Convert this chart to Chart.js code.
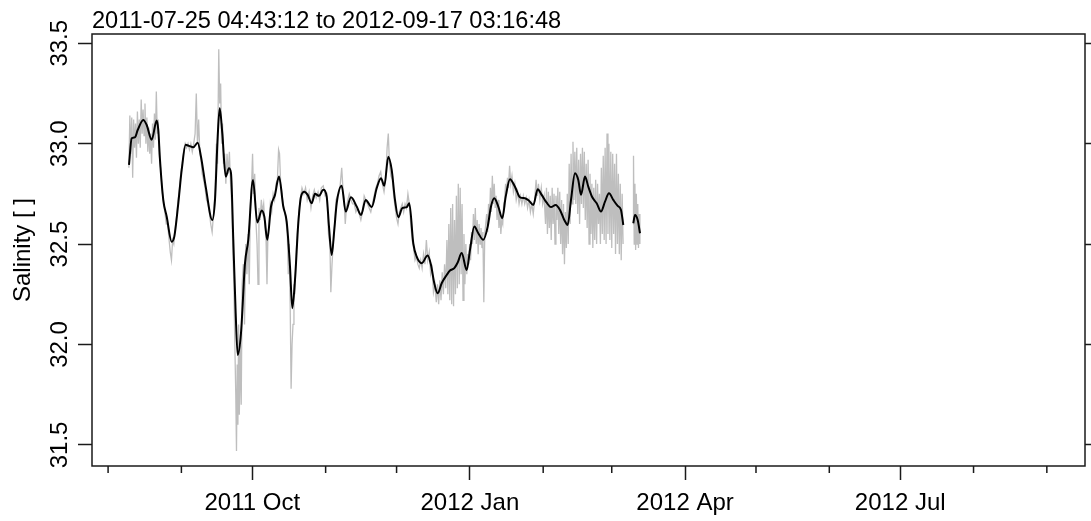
<!DOCTYPE html>
<html><head><meta charset="utf-8">
<script src="https://cdn.jsdelivr.net/npm/chart.js@4.4.1/dist/chart.umd.min.js"></script>
<style>html,body{margin:0;padding:0;background:#fff;}</style>
</head><body>
<canvas id="c" width="1091" height="521"></canvas>
<script>
// ---- data (days since 2011-08-01 00:00 UTC, salinity) ----
const titleText = '2011-07-25 04:43:12 to 2012-09-17 03:16:48';
const yLabel = 'Salinity [ ]';
const yTickVals = [31.5, 32.0, 32.5, 33.0, 33.5];
const yTickLabels = ['31.5', '32.0', '32.5', '33.0', '33.5'];
const monthTicks = ['2011-08','2011-09','2011-10','2011-11','2011-12','2012-01','2012-02','2012-03','2012-04','2012-05','2012-06','2012-07','2012-08','2012-09'];
const majorLabels = {'2011-10':'2011 Oct','2012-01':'2012 Jan','2012-04':'2012 Apr','2012-07':'2012 Jul'};

const smoothSalinity = [
[8.84,32.894],[9.98,33.027],[11.38,33.032],[12.52,33.068],[14.89,33.118],[16.32,33.093],[18.44,33.019],[20.55,33.115],[21.23,33.068],[21.95,32.919],
[23.34,32.72],[24.78,32.637],[26.9,32.512],[28.0,32.537],[29.69,32.703],[31.13,32.869],[32.82,32.994],[34.21,32.989],[36.03,32.982],[37.89,33.005],
[39.29,32.935],[41.28,32.786],[44.07,32.62],[45.21,32.72],[46.35,33.035],[47.2,33.176],[48.3,33.052],[49.74,32.836],[51.13,32.878],[51.98,32.853],
[52.95,32.521],[53.96,32.156],[54.81,31.948],[56.2,32.056],[57.9,32.405],[59.29,32.521],[61.28,32.819],[63.1,32.607],[64.96,32.667],[66.06,32.637],
[67.33,32.521],[68.89,32.687],[70.58,32.745],[72.27,32.836],[74.09,32.687],[75.53,32.612],[76.93,32.388],[77.9,32.181],[79.04,32.321],[80.44,32.604],
[81.58,32.736],[82.98,32.761],[84.41,32.745],[86.1,32.703],[87.5,32.75],[89.19,32.74],[91.01,32.77],[92.45,32.736],[93.42,32.587],[94.56,32.446],
[95.66,32.571],[96.68,32.703],[98.79,32.79],[100.48,32.662],[102.72,32.733],[105.13,32.687],[106.95,32.645],[108.94,32.72],[111.48,32.684],[113.59,32.778],
[115.41,32.828],[116.81,32.79],[118.5,32.935],[119.94,32.869],[121.33,32.72],[122.73,32.634],[124.42,32.679],[126.28,32.684],[127.38,32.703],[129.07,32.504],
[130.51,32.437],[132.63,32.405],[135.16,32.443],[136.56,32.396],[137.95,32.305],[139.39,32.255],[141.08,32.305],[143.2,32.346],[144.59,32.368],[146.41,32.38],
[147.85,32.408],[149.54,32.455],[151.65,32.371],[153.05,32.471],[154.87,32.587],[156.56,32.554],[158.68,32.521],[160.54,32.587],[161.93,32.687],[163.33,32.728],
[165.02,32.687],[166.71,32.629],[168.15,32.736],[169.97,32.823],[172.08,32.785],[174.2,32.733],[176.31,32.728],[178.0,32.716],[179.82,32.695],[181.68,32.773],
[183.37,32.745],[185.49,32.706],[187.31,32.684],[189.29,32.695],[191.11,32.67],[192.93,32.62],[194.37,32.595],[195.77,32.72],[197.46,32.853],[198.85,32.819],
[199.99,32.745],[201.69,32.836],[203.08,32.786],[204.77,32.733],[206.63,32.703],[208.45,32.662],[210.14,32.711],[211.83,32.753],[213.65,32.72],[215.51,32.69],
[216.91,32.67],[217.88,32.595],[220.0,null],[222.11,32.604],[222.83,32.645],[223.97,32.62],[224.94,32.554]
];

const rawSalinity = [
[8.8,32.88],[9.2,33.14],[9.6,32.95],[10.0,33.13],[10.4,32.83],[10.8,33.12],[11.2,32.98],[11.6,33.1],[12.0,32.93],[12.4,33.16],[12.8,33.0],[13.2,33.12],[13.6,32.98],[14.0,33.22],[14.4,33.05],[14.8,33.17],[15.2,33.04],[15.6,33.2],[16.0,33.0],[16.4,33.13],[16.8,32.96],[17.2,33.08],[17.6,32.95],[18.0,33.05],[18.4,32.9],[18.8,33.1],[19.2,32.98],[19.6,33.15],[20.0,33.02],[20.4,33.26],[20.8,33.05],[21.2,33.12],[21.6,32.95],
[22.2,32.88],[22.8,32.78],[23.4,32.7],[24.0,32.66],[24.6,32.6],[25.2,32.6],[25.8,32.52],[26.3,32.46],[26.8,32.42],[27.3,32.52],[27.8,32.5],[28.4,32.58],[29.0,32.64],[29.6,32.72],[30.2,32.78],[30.8,32.86],[31.4,32.9],[32.0,32.97],[32.6,33.0],[33.2,32.98],[33.8,33.0],[34.4,32.97],[35.0,33.0],[35.6,32.96],[36.2,33.0],[36.8,33.05],[37.3,33.25],[37.8,33.0],[38.3,33.12],[38.8,32.95],[39.3,32.92],[39.8,32.85],[40.4,32.82],[41.0,32.78],[41.6,32.72],[42.2,32.7],[42.8,32.66],[43.4,32.6],[44.0,32.56],[44.6,32.65],[45.2,32.75],
[45.8,33.0],[46.3,32.9],[46.8,33.47],[47.2,33.2],[47.6,33.3],[48.0,33.0],[48.4,33.1],[48.8,32.9],[49.3,32.95],[49.8,32.8],[50.3,32.95],[50.8,32.85],[51.3,32.96],[51.8,32.8],[52.3,32.7],[52.8,32.45],[53.2,32.3],[53.6,32.0],[54.0,31.75],[54.3,31.47],[54.6,31.9],[54.9,31.6],[55.2,32.1],[55.5,31.65],[55.9,32.0],[56.3,31.7],[56.7,32.3],
[57.2,32.4],[57.7,32.1],[58.2,32.5],[58.7,32.35],[59.2,32.55],[59.7,32.3],[60.2,32.7],[60.7,32.8],[61.1,32.95],[61.5,32.75],[62.0,32.85],[62.5,32.62],[63.0,32.5],[63.4,32.3],[63.8,32.68],[64.3,32.62],[64.8,32.72],[65.3,32.66],[65.8,32.7],[66.3,32.6],[66.8,32.52],[67.2,32.3],[67.6,32.55],[68.1,32.6],[68.6,32.7],[69.2,32.66],[69.8,32.75],[70.4,32.72],[71.0,32.8],[71.6,32.82],[72.1,32.97],[72.5,32.95],[73.0,32.8],[73.5,32.76],[74.0,32.7],[74.6,32.66],[75.2,32.62],[75.8,32.55],[76.2,32.35],[76.6,32.5],[77.0,32.2],[77.4,31.78],[77.8,32.0],[78.2,32.1],[78.6,32.3],[79.0,32.25],[79.5,32.45],[80.0,32.55],[80.6,32.65],[81.2,32.72],
[82.0,32.78],[82.8,32.75],[83.5,32.78],[84.2,32.72],[85.0,32.76],[85.8,32.68],[86.5,32.74],[87.2,32.77],[88.0,32.73],[88.8,32.76],[89.5,32.72],[90.2,32.78],[91.0,32.79],[91.8,32.74],[92.5,32.75],[93.2,32.55],[93.8,32.5],[94.2,32.26],[94.7,32.4],[95.2,32.5],[95.8,32.6],[96.4,32.72],[97.0,32.74],[97.6,32.75],[98.2,32.8],[98.8,32.88],[99.3,32.78],[99.8,32.72],[100.3,32.6],[100.8,32.68],[101.4,32.72],[102.0,32.75],[102.7,32.72],[103.4,32.7],[104.1,32.7],[104.8,32.66],[105.5,32.68],[106.2,32.65],[106.9,32.62],[107.6,32.66],[108.3,32.74],[109.0,32.72],[109.7,32.7],[110.4,32.68],[111.1,32.66],[111.8,32.7],[112.5,32.74],[113.2,32.78],[113.9,32.8],[114.6,32.84],[115.3,32.86],[116.0,32.8],[116.7,32.76],[117.4,32.82],[118.0,32.98],[118.5,33.05],[119.0,32.9],[119.6,32.84],[120.2,32.82],[120.8,32.74],[121.4,32.68],[122.0,32.63],[122.6,32.6],[123.2,32.66],[123.8,32.68],[124.4,32.7],[125.0,32.66],[125.6,32.7],[126.2,32.68],[126.8,32.75],[127.4,32.7],[128.0,32.6],[128.6,32.52],[129.2,32.48],[129.8,32.42],
[130.4,32.44],[131.0,32.4],[131.6,32.38],[132.2,32.42],[132.8,32.38],[133.4,32.45],[134.0,32.4],[134.6,32.52],[135.2,32.42],[135.8,32.46],[136.4,32.35],[137.0,32.38],[137.6,32.26],[138.2,32.3],[138.8,32.21],[139.3,32.3],[139.8,32.2],[140.3,32.32],[140.8,32.22],[141.3,32.36],[141.8,32.25],[142.3,32.4],[142.8,32.28],[143.3,32.52],[143.7,32.25],[144.1,32.6],[144.5,32.22],[144.9,32.68],[145.3,32.2],[145.7,32.7],[146.1,32.19],[146.5,32.62],[146.9,32.25],[147.3,32.74],[147.7,32.28],[148.1,32.8],[148.5,32.3],[148.9,32.78],[149.3,32.35],[149.7,32.7],[150.1,32.22],[150.5,32.55],[150.9,32.3],[151.3,32.5],[151.7,32.35],[152.1,32.45],[152.5,32.4],
[152.9,32.5],[153.3,32.42],[153.7,32.56],[154.1,32.5],[154.5,32.65],[154.9,32.52],[155.3,32.68],[155.7,32.5],[156.1,32.62],[156.5,32.45],[156.9,32.6],[157.3,32.5],[157.7,32.58],[158.1,32.48],[158.5,32.56],[158.9,32.21],[159.3,32.55],[159.7,32.6],[160.1,32.65],[160.5,32.56],[160.9,32.7],[161.3,32.62],[161.7,32.78],[162.1,32.66],[162.5,32.84],[162.9,32.7],[163.3,32.8],[163.7,32.68],[164.1,32.74],[164.5,32.62],[164.9,32.72],[165.3,32.58],[165.7,32.66],[166.1,32.55],[166.5,32.62],[166.9,32.6],[167.3,32.7],[167.7,32.72],[168.1,32.8],[168.5,32.75],[168.9,32.83],[169.3,32.78],[169.8,32.89],[170.3,32.8],[170.8,32.84],[171.4,32.76],[172.0,32.8],[172.6,32.72],[173.2,32.76],[173.8,32.7],[174.4,32.74],[175.0,32.7],[175.6,32.74],[176.2,32.7],[176.8,32.73],[177.4,32.68],[178.0,32.72],[178.6,32.66],[179.2,32.7],[179.8,32.65],[180.4,32.72],[181.0,32.82],[181.5,32.74],[182.0,32.8],[182.6,32.72],[183.2,32.78],[183.8,32.7],[184.4,32.74],[185.0,32.6],[185.4,32.78],[185.8,32.55],[186.2,32.76],[186.6,32.58],[187.0,32.74],[187.4,32.52],[187.8,32.78],[188.2,32.6],[188.6,32.75],[189.0,32.5],[189.4,32.74],[189.8,32.62],
[190.2,32.78],[190.6,32.55],[191.0,32.76],[191.4,32.5],[191.8,32.72],[192.2,32.45],[192.6,32.7],[193.0,32.4],[193.4,32.66],[193.8,32.48],[194.2,32.75],[194.6,32.5],[195.0,32.9],[195.4,32.6],[195.8,32.95],[196.2,32.7],[196.6,33.01],[197.0,32.72],[197.4,32.96],[197.8,32.7],[198.2,32.98],[198.6,32.65],[199.0,32.92],[199.4,32.6],[199.8,32.95],[200.2,32.7],[200.6,32.98],[201.0,32.68],[201.4,32.96],[201.8,32.62],[202.2,32.9],[202.6,32.58],[203.0,32.92],[203.4,32.5],[203.8,32.85],[204.2,32.55],[204.6,32.8],[205.0,32.48],[205.4,32.78],[205.8,32.52],[206.2,32.82],[206.6,32.5],[207.0,32.8],[207.4,32.6],[207.8,32.75],[208.2,32.5],[208.6,32.88],[209.0,32.55],[209.4,32.94],[209.8,32.52],[210.2,32.98],[210.6,32.5],[211.0,33.05],[211.4,32.55],[211.8,33.0],[212.2,32.52],[212.6,32.96],[213.0,32.48],[213.4,32.95],[213.8,32.55],[214.2,32.9],[214.6,32.45],[215.0,32.95],[215.4,32.5],[215.8,32.85],[216.2,32.45],[216.6,32.8],[217.0,32.42],[217.4,32.75],[217.8,32.5],
[220.0,null],
[222.0,32.6],[222.2,32.94],[222.5,32.5],[222.8,32.8],[223.1,32.47],[223.4,32.75],[223.7,32.5],[224.0,32.7],[224.3,32.48],[224.6,32.65],[224.9,32.5]
];

// ---- axis ranges ----
const X_MIN = Date.UTC(2011, 6, 25, 4, 43, 12);
const X_MAX = Date.UTC(2012, 8, 17, 3, 16, 48);
const Y_MIN = 31.395, Y_MAX = 33.546;
const DAY0 = Date.UTC(2011, 7, 1);
const DAY_MS = 86400000;
const FONT = '"Liberation Sans", Arial, Helvetica, sans-serif';
const FS = 24;
const INK = '#1a1a1a';

function monthValue(m) { const [y, mo] = m.split('-').map(Number); return Date.UTC(y, mo - 1, 1); }
function toPts(arr) { return arr.map(([d, v]) => ({x: DAY0 + d * DAY_MS, y: v})); }

const decor = {
  id: 'decor',
  afterDraw(chart) {
    const {ctx, chartArea: a, scales} = chart;
    ctx.save();
    ctx.strokeStyle = INK; ctx.lineWidth = 1.5;
    ctx.strokeRect(a.left, a.top, a.right - a.left, a.bottom - a.top);
    ctx.beginPath();
    monthTicks.forEach(m => {
      if (!majorLabels[m]) {
        const x = scales.x.getPixelForValue(monthValue(m));
        ctx.moveTo(x, a.bottom); ctx.lineTo(x, a.bottom + 7);
      }
    });
    ctx.stroke();
    ctx.fillStyle = '#000';
    ctx.font = FS + 'px ' + FONT;
    ctx.textAlign = 'center'; ctx.textBaseline = 'alphabetic';
    yTickVals.forEach((v, i) => {
      const y = scales.y.getPixelForValue(v);
      ctx.save(); ctx.translate(a.left - 25, y); ctx.rotate(-Math.PI / 2);
      ctx.fillText(yTickLabels[i], 0, 0); ctx.restore();
    });
    ctx.font = '23.6px ' + FONT;
    ctx.textAlign = 'left';
    ctx.fillText(titleText, a.left, a.top - 6);
    ctx.restore();
  }
};

new Chart(document.getElementById('c'), {
  type: 'line',
  data: {
    datasets: [
      {label: 'raw', data: toPts(rawSalinity), borderColor: 'rgb(190,190,190)', borderWidth: 1.3, pointRadius: 0, order: 2, spanGaps: false, tension: 0},
      {label: 'smoothed', data: toPts(smoothSalinity), borderColor: '#000', borderWidth: 2, pointRadius: 0, order: 1, spanGaps: false, cubicInterpolationMode: 'monotone'}
    ]
  },
  options: {
    responsive: false, animation: false, devicePixelRatio: 1,
    layout: {padding: {top: 34, left: 0, right: 0, bottom: 0}},
    plugins: {legend: {display: false}, tooltip: {enabled: false}, title: {display: false}},
    scales: {
      x: {
        type: 'linear', min: X_MIN, max: X_MAX, offset: false,
        afterBuildTicks: s => { s.ticks = monthTicks.map(m => ({value: monthValue(m)})); },
        afterFit: s => { s.height = 55; },
        grid: {drawOnChartArea: false, drawTicks: true, tickLength: 14, tickWidth: 1.5,
          tickColor: c => (majorLabels[monthTicks[c.index]] ? INK : 'rgba(0,0,0,0)')},
        border: {display: false},
        ticks: {autoSkip: false, maxRotation: 0, minRotation: 0, padding: 9, color: '#000',
          font: {family: FONT, size: FS},
          callback: (v, i) => majorLabels[monthTicks[i]] || ''}
      },
      y: {
        type: 'linear', position: 'left', min: Y_MIN, max: Y_MAX,
        afterBuildTicks: s => { s.ticks = yTickVals.map(v => ({value: v})); },
        afterFit: s => { s.width = 92; },
        grid: {drawOnChartArea: false, drawTicks: true, tickLength: 14, tickWidth: 1.5, tickColor: INK},
        border: {display: false},
        ticks: {display: false},
        title: {display: true, text: yLabel, color: '#000', font: {family: FONT, size: FS}, padding: {top: 9, bottom: 0}}
      },
      y2: {
        type: 'linear', position: 'right', min: Y_MIN, max: Y_MAX,
        afterBuildTicks: s => { s.ticks = yTickVals.map(v => ({value: v})); },
        afterFit: s => { s.width = 6; },
        grid: {drawOnChartArea: false, drawTicks: true, tickLength: 7, tickWidth: 1.5, tickColor: INK},
        border: {display: false},
        ticks: {display: false}
      }
    }
  },
  plugins: [decor]
});
</script>
</body></html>
